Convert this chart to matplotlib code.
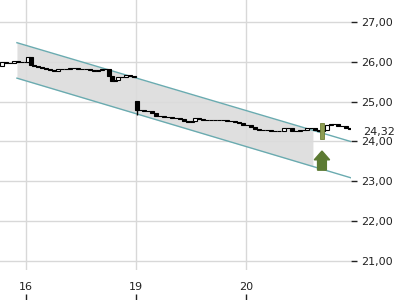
import numpy as np
import matplotlib
matplotlib.use("Agg")
import matplotlib.pyplot as plt
from matplotlib.ticker import FuncFormatter

# time axis in trading days (0 = "16", 1 = "19", 2 = "20")
t = [-0.218, -0.182, -0.145, -0.109, -0.073, -0.036, 0.000, 0.018, 0.045, 0.073,
     0.109, 0.145, 0.182, 0.218, 0.255, 0.291, 0.327, 0.364, 0.400, 0.436,
     0.473, 0.509, 0.545, 0.582, 0.618, 0.655, 0.691, 0.727, 0.755, 0.782,
     0.809, 0.836, 0.873, 0.909, 0.945, 0.982, 1.009, 1.036, 1.073, 1.109,
     1.145, 1.182, 1.218, 1.255, 1.291, 1.327, 1.364, 1.400, 1.436, 1.473,
     1.509, 1.536, 1.573, 1.609, 1.645, 1.682, 1.718, 1.755, 1.791, 1.827,
     1.864, 1.900, 1.936, 1.973, 2.009, 2.045, 2.082, 2.118, 2.155, 2.191,
     2.227, 2.264, 2.300, 2.345, 2.382, 2.418, 2.455, 2.491, 2.527, 2.555,
     2.591, 2.627, 2.664, 2.700, 2.736, 2.773, 2.800, 2.836, 2.873, 2.909,
     2.945]
close = [26.00, 25.96, 25.96, 26.01, 26.00, 26.00, 26.00, 26.12, 25.92, 25.90,
         25.87, 25.85, 25.82, 25.79, 25.78, 25.81, 25.83, 25.83, 25.85, 25.85,
         25.81, 25.81, 25.81, 25.79, 25.77, 25.79, 25.81, 25.82, 25.64, 25.52,
         25.54, 25.62, 25.63, 25.66, 25.64, 25.62, 24.79, 24.79, 24.77, 24.77,
         24.72, 24.65, 24.64, 24.61, 24.61, 24.59, 24.58, 24.56, 24.51, 24.49,
         24.51, 24.59, 24.56, 24.55, 24.54, 24.54, 24.54, 24.53, 24.53, 24.51,
         24.51, 24.50, 24.46, 24.41, 24.41, 24.36, 24.31, 24.30, 24.30, 24.29,
         24.26, 24.26, 24.26, 24.34, 24.33, 24.26, 24.26, 24.29, 24.28, 24.34,
         24.34, 24.29, 24.26, 24.29, 24.41, 24.44, 24.45, 24.40, 24.39, 24.35,
         24.32]
first_open = 25.90
gap_opens = {36: 25.02}      # opening gap on the 19th
gap_wick = (1.009, 25.02, 24.66)
last_price = 24.32

# trend channel
channel_x = [-0.082, 2.964]
channel_upper = [26.48, 23.99]
channel_lower = [25.59, 23.08]
fill_end = 2.609

# signal
signal_x = 2.691
signal_bar = (24.06, 24.46)
arrow_from, arrow_to = 23.28, 23.76

day_ticks = [0, 1, 2]
day_labels = ["16", "19", "20"]
price_ticks = [21, 22, 23, 24, 25, 26, 27]

fig = plt.figure(figsize=(4, 3), dpi=100)
ax = fig.add_axes([0, 0.1, 351 / 400, 0.9])
ax.set_xlim(-0.236, 2.955)
ax.set_ylim(20.774, 27.552)

# channel
fx = np.array([channel_x[0], fill_end])
ax.fill_between(fx, np.interp(fx, channel_x, channel_lower), np.interp(fx, channel_x, channel_upper),
                color="#dcdcdc", alpha=0.9, lw=0, zorder=1)
ax.plot(channel_x, channel_upper, color="#6aabb0", lw=1, zorder=2)
ax.plot(channel_x, channel_lower, color="#6aabb0", lw=1, zorder=2)

# candles
opens = [first_open] + close[:-1]
for i, v in gap_opens.items():
    opens[i] = v
ax.vlines(gap_wick[0], gap_wick[2], gap_wick[1], color="black", lw=1, zorder=3)
w = 0.03
for x, o, c in zip(t, opens, close):
    face = "white" if c >= o else "black"
    ax.bar(x, abs(c - o), bottom=min(o, c), width=w, color=face,
           edgecolor="black", linewidth=0.8, zorder=4)

# signal bar and arrow
ax.bar(signal_x, signal_bar[1] - signal_bar[0], bottom=signal_bar[0], width=0.035,
       color="#8d9c52", edgecolor="#6f8038", linewidth=0.6, zorder=5)
ax.arrow(signal_x, arrow_from, 0, arrow_to - arrow_from, width=0.08, head_width=0.14,
         head_length=0.22, length_includes_head=True, color="#5c7a32", zorder=5)

# axes styling
for s in ax.spines.values():
    s.set_visible(False)
ax.set_xticks(day_ticks)
ax.set_xticklabels(day_labels)
ax.set_yticks(price_ticks)
ax.yaxis.set_major_formatter(FuncFormatter(lambda v, p: f"{v:.2f}".replace(".", ",")))
ax.yaxis.tick_right()
ax.tick_params(axis="y", direction="out", length=4, width=1, pad=3.5,
               labelsize=8, colors="#222222")
ax.tick_params(axis="x", length=0, pad=9, labelsize=8, colors="#222222")
ax.grid(True, color="#d8d8d8", lw=1)
ax.set_axisbelow(True)

sec = ax.secondary_xaxis(-30 / 270)
sec.set_xticks(day_ticks)
sec.set_xticklabels([])
sec.tick_params(direction="in", length=4, width=1, colors="#222222")
sec.spines["bottom"].set_visible(False)

ax.annotate(f"{last_price:.2f}".replace(".", ","), xy=(1.034, last_price),
            xycoords=("axes fraction", "data"), xytext=(0, -2.4), textcoords="offset points",
            va="center", ha="left", fontsize=8, color="#222222")

fig.savefig("out.png", dpi=100)
